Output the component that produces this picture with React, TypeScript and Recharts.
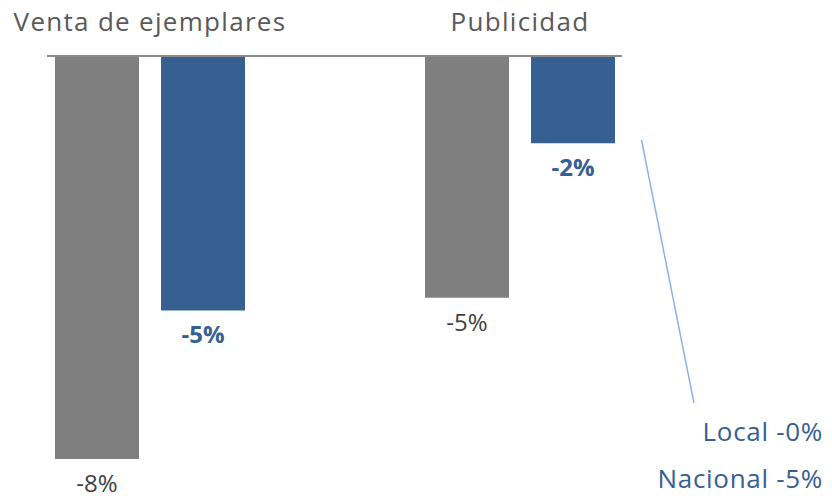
import React from "react";
import { BarChart, Bar, XAxis, YAxis, LabelList } from "recharts";

const categories = ["Venta de ejemplares", "Publicidad"];
const grayValues = [-8.0, -4.8];
const blueValues = [-5.05, -1.73];
const legendLines = ["Local -0%", "Nacional -5%"];

const data = categories.map((c, i) => ({ name: c, gray: grayValues[i], blue: blueValues[i] }));

const FONT = "'Open Sans', 'DejaVu Sans', sans-serif";
const GRAY = "#7f7f7f";
const BLUE = "#376092";

const makeLabel = (color: string, weight: string | number) => (props: any) => {
  const { x, y, width, height, value } = props;
  const bottom = Math.max(y, y + height);
  return (
    <text
      x={x + width / 2}
      y={bottom + 33}
      textAnchor="middle"
      fill={color}
      fontSize={24}
      fontWeight={weight}
      fontFamily={FONT}
    >
      {`${Math.round(value)}%`}
    </text>
  );
};

const CategoryTick = (props: any) => {
  const { x, y, payload } = props;
  return (
    <text
      x={x}
      y={y}
      textAnchor="middle"
      fill="#595959"
      fontSize={26}
      fontFamily={FONT}
      letterSpacing={1.3}
    >
      {payload.value}
    </text>
  );
};

export default function App() {
  return (
    <div style={{ position: "absolute", left: 0, top: 0, width: 832, height: 498, background: "#fff" }}>
      <BarChart
        width={832}
        height={498}
        data={data}
        margin={{ top: 26, left: 47, right: 210, bottom: 39 }}
        barGap={22}
        barSize={84}
      >
        <XAxis
          dataKey="name"
          orientation="top"
          height={30}
          padding={{ left: -82, right: -83 }}
          axisLine={{ stroke: "#8c8c8c", strokeWidth: 2 }}
          tickLine={false}
          tickSize={0}
          tickMargin={25}
          tick={<CategoryTick />}
          interval={0}
        />
        <YAxis hide domain={[-8, 0]} />
        <Bar dataKey="gray" fill={GRAY} isAnimationActive={false}>
          <LabelList dataKey="gray" content={makeLabel("#404040", 400)} />
        </Bar>
        <Bar dataKey="blue" fill={BLUE} isAnimationActive={false}>
          <LabelList dataKey="blue" content={makeLabel(BLUE, 700)} />
        </Bar>
      </BarChart>
      <svg
        width={832}
        height={498}
        style={{ position: "absolute", left: 0, top: 0, pointerEvents: "none" }}
      >
        <line x1={641.5} y1={140} x2={694} y2={403} stroke="#8db3e2" strokeWidth={1.5} />
        {legendLines.map((t, i) => (
          <text
            key={t}
            x={823}
            y={441 + i * 47}
            textAnchor="end"
            fill={BLUE}
            fontSize={26}
            fontFamily={FONT}
            letterSpacing={0.7}
          >
            {t}
          </text>
        ))}
      </svg>
    </div>
  );
}
